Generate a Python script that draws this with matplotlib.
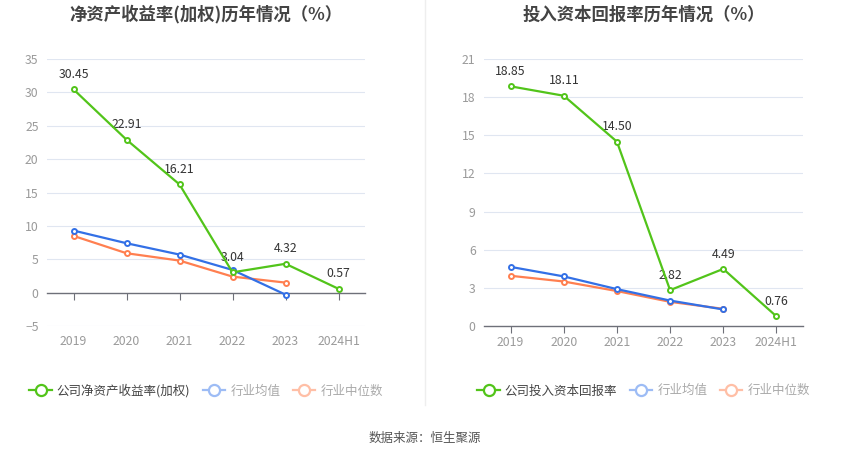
import numpy as np
import matplotlib
matplotlib.use("Agg")
import matplotlib.pyplot as plt
from matplotlib.lines import Line2D

plt.rcParams['font.family'] = ['Noto Sans CJK SC', 'DejaVu Sans']

years = ["2019", "2020", "2021", "2022", "2023", "2024H1"]

roe_company = [30.45, 22.91, 16.21, 3.04, 4.32, 0.57]
roe_avg = [9.3, 7.4, 5.7, 3.4, -0.3]
roe_median = [8.5, 5.9, 4.8, 2.4, 1.5]

roic_company = [18.85, 18.11, 14.50, 2.82, 4.49, 0.76]
roic_avg = [4.65, 3.9, 2.9, 2.0, 1.3]
roic_median = [3.95, 3.5, 2.75, 1.9, 1.35]

GREEN = "#52c41a"
BLUE = "#3370e6"
ORANGE = "#ff7f50"
BLUE_L = "#9dbcf5"
ORANGE_L = "#ffbfa6"
GRID = "#e0e6f1"
AXIS = "#6e7079"
TICK = "#9a9a9a"

fig = plt.figure(figsize=(8.5, 4.59), dpi=100)


def draw(ax, comp, avg, med, ylim, yticks, title, legend_name, zero_pad):
    x = np.arange(len(years))
    ax.set_xlim(-0.5, len(years) - 0.5)
    ax.set_ylim(*ylim)
    ax.set_yticks(yticks)
    for t in yticks:
        if t != 0:
            ax.axhline(t, color=GRID, lw=0.8, zorder=0)
    for s in ["top", "right", "left"]:
        ax.spines[s].set_visible(False)
    ax.spines["bottom"].set_position(("data", 0))
    ax.spines["bottom"].set_color(AXIS)
    ax.spines["bottom"].set_linewidth(1)
    ax.set_xticks(x)
    ax.set_xticklabels(years)
    ax.tick_params(axis="x", length=5, color=AXIS, labelcolor=TICK, labelsize=8.8, pad=zero_pad)
    ax.tick_params(axis="y", length=0, labelcolor=TICK, labelsize=8.8, pad=6)

    kw = dict(marker="o", markersize=3.6, markerfacecolor="white", markeredgewidth=1.4, lw=1.6)
    ax.plot(x[:len(med)], med, color=ORANGE, zorder=3, **kw)
    ax.plot(x[:len(avg)], avg, color=BLUE, zorder=4, **kw)
    ax.plot(x, comp, color=GREEN, zorder=5, **kw)
    for xi, v in zip(x, comp):
        ax.annotate(f"{v:.2f}", (xi, v), xytext=(0, 6), textcoords="offset points",
                    ha="center", va="bottom", fontsize=8.8, color="#333333")
    ax.set_title(title, fontsize=12.5, fontweight="bold", color="#444444", y=1.115)

    handles = [
        Line2D([], [], color=GREEN, marker="o", markersize=8, markerfacecolor="white", markeredgewidth=1.6, lw=1.6),
        Line2D([], [], color=BLUE_L, marker="o", markersize=8, markerfacecolor="white", markeredgewidth=1.6, lw=1.6),
        Line2D([], [], color=ORANGE_L, marker="o", markersize=8, markerfacecolor="white", markeredgewidth=1.6, lw=1.6),
    ]
    leg = ax.legend(handles, [legend_name, "行业均值", "行业中位数"], ncol=3, loc="center",
                    bbox_to_anchor=(0.5, -0.243), frameon=False, fontsize=9,
                    handlelength=1.8, handletextpad=0.4, columnspacing=1.0)
    cols = ["#444444", "#aaaaaa", "#aaaaaa"]
    for t, c in zip(leg.get_texts(), cols):
        t.set_color(c)


ax1 = fig.add_axes([47 / 850, 1 - 326 / 459, 318 / 850, 267 / 459])
draw(ax1, roe_company, roe_avg, roe_median, (-5, 35), [-5, 0, 5, 10, 15, 20, 25, 30, 35],
     "净资产收益率(加权)历年情况（%）", "公司净资产收益率(加权)", 25.5)

ax2 = fig.add_axes([484 / 850, 1 - 326 / 459, 319 / 850, 267 / 459])
draw(ax2, roic_company, roic_avg, roic_median, (0, 21), [0, 3, 6, 9, 12, 15, 18, 21],
     "投入资本回报率历年情况（%）", "公司投入资本回报率", 2)

fig.add_artist(Line2D([425 / 850, 425 / 850], [1 - 405 / 459, 1.0], color="#eeeeee", lw=1))
fig.text(0.5, 1 - 438 / 459, "数据来源：恒生聚源", ha="center", va="center", fontsize=9, color="#555555")

fig.savefig("out.png", dpi=100)
